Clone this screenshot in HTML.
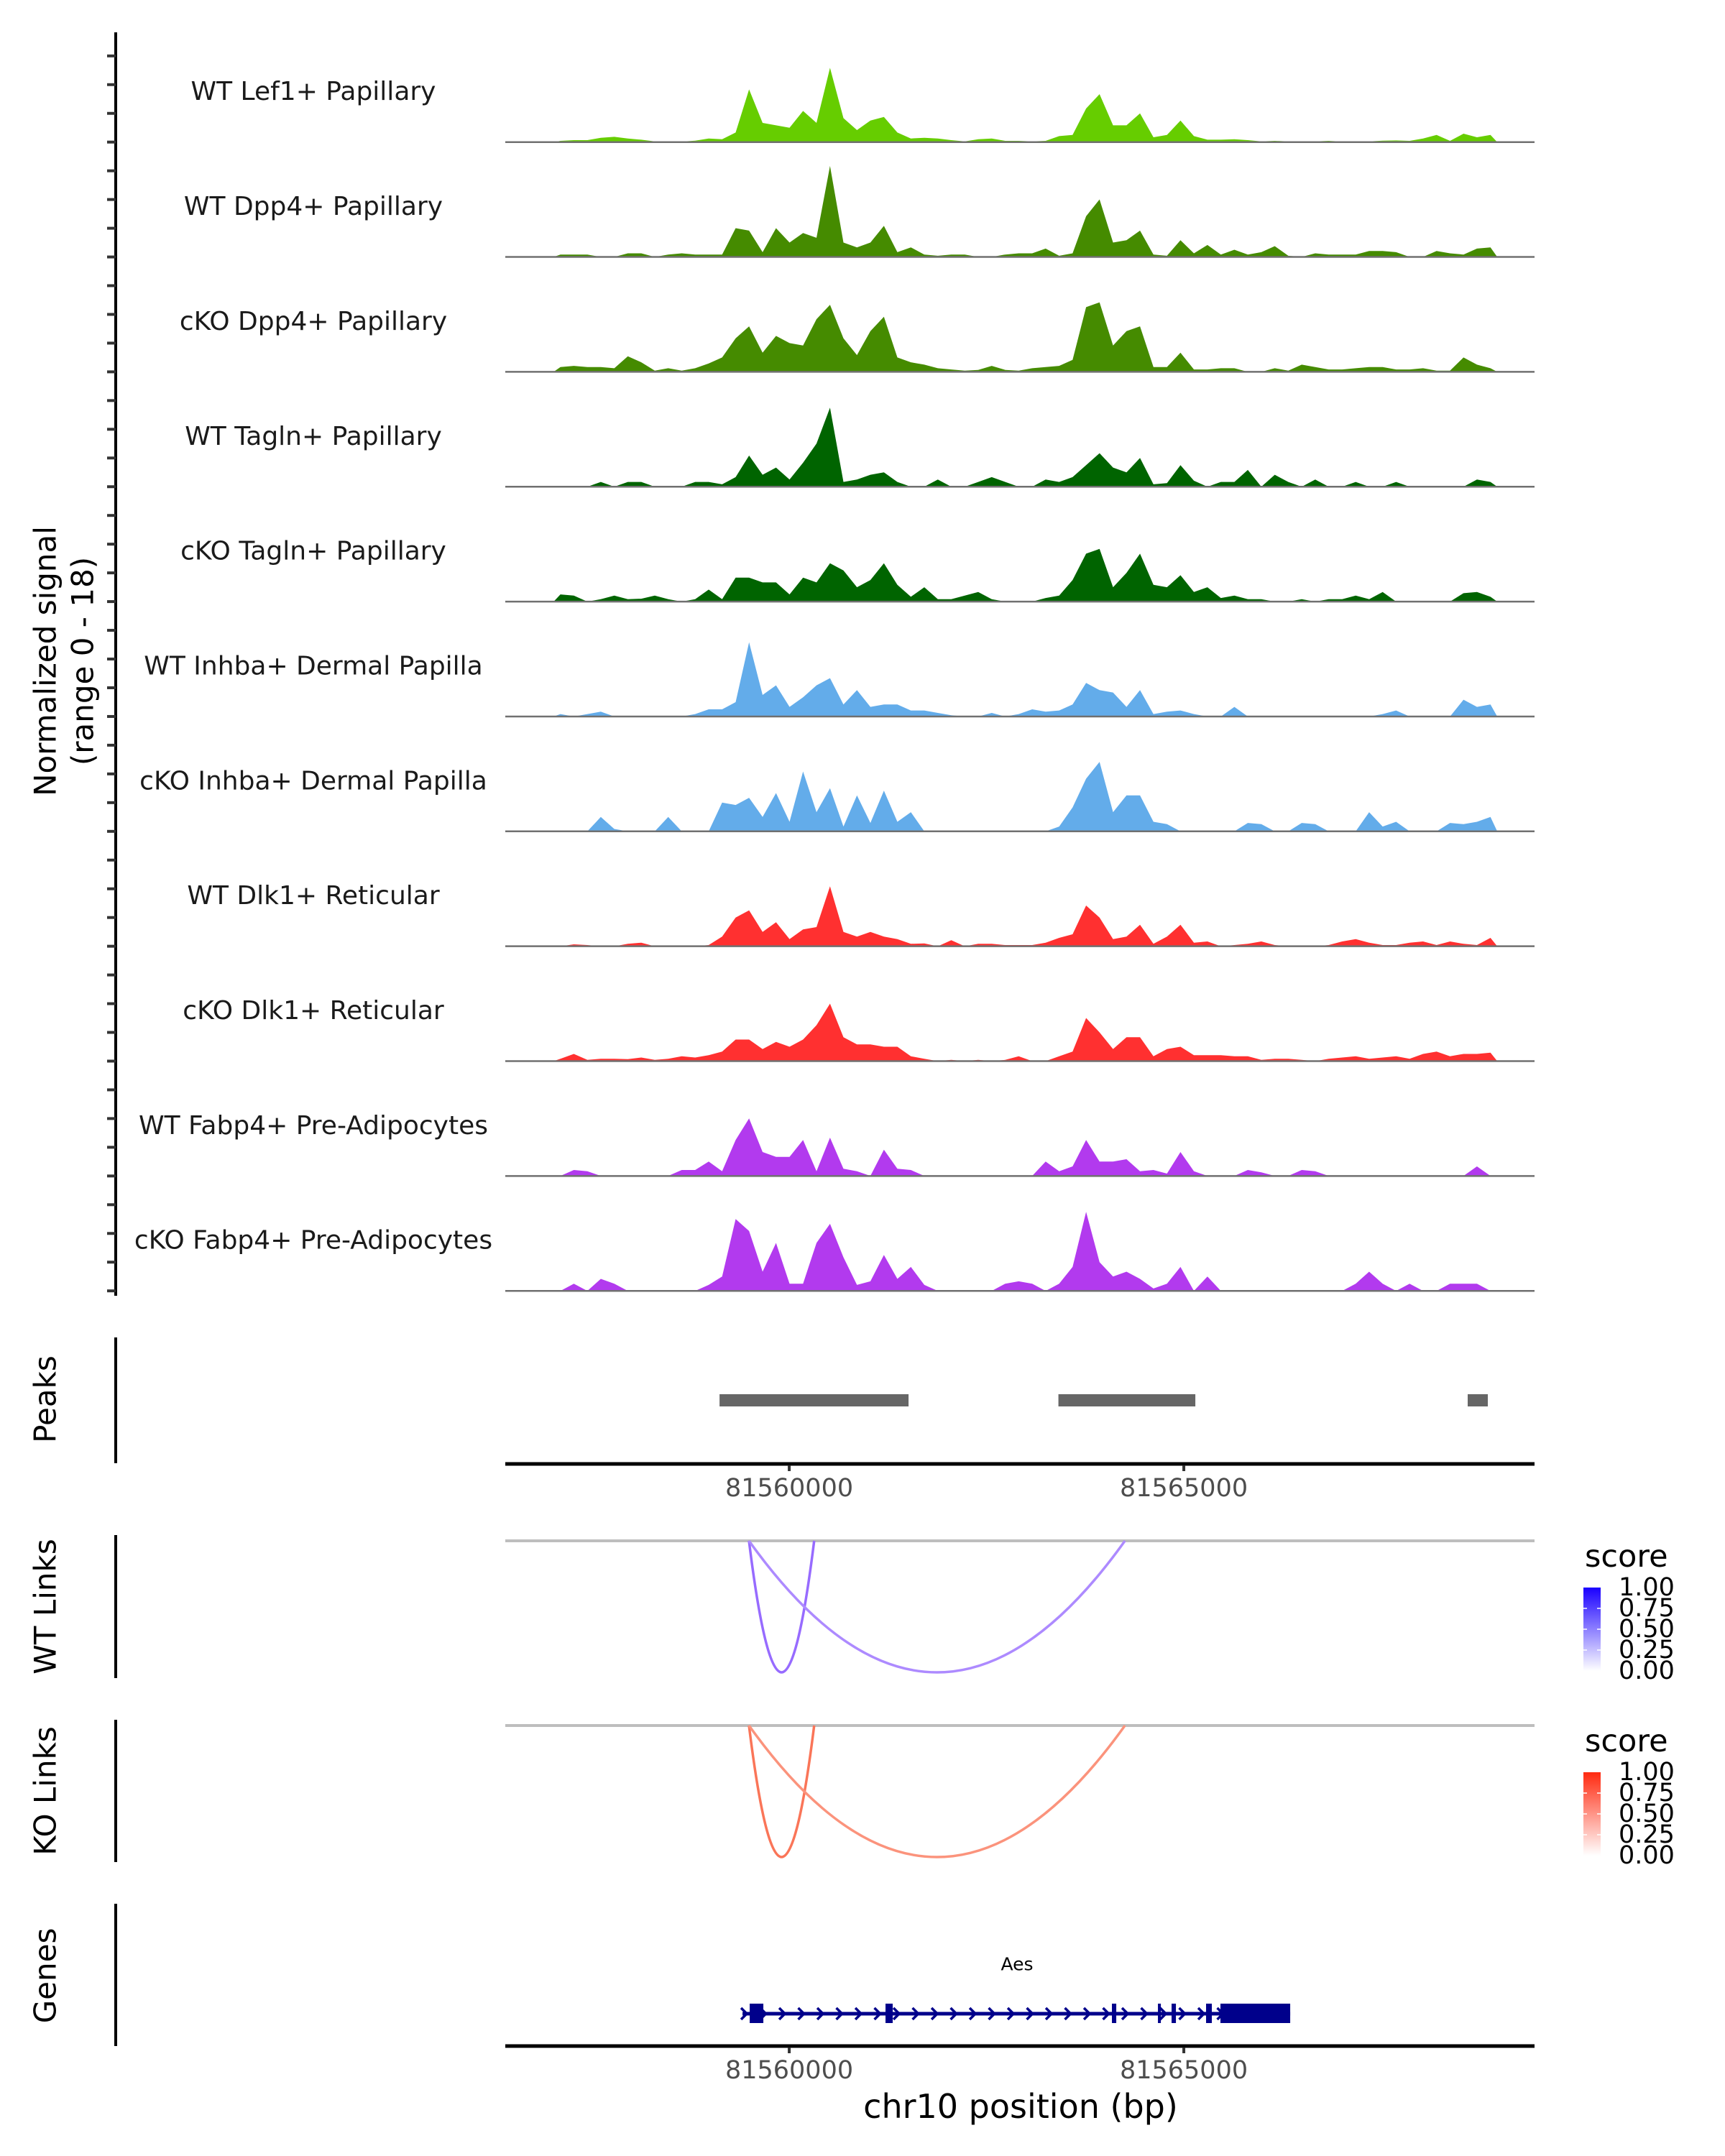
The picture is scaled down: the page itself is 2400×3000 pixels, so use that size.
<!DOCTYPE html>
<html>
<head>
<meta charset="utf-8">
<style>
  html, body { margin: 0; padding: 0; background: #ffffff; }
  svg { display: block; }
  text { font-family: "DejaVu Sans", "Liberation Sans", sans-serif; }
</style>
</head>
<body>
<svg id="chart" xmlns="http://www.w3.org/2000/svg" width="2400" height="3000" viewBox="0 0 2400 3000">
  <rect x="0" y="0" width="2400" height="3000" fill="#ffffff"/>
  <g id="tracks"></g>
  <g id="axisLeft"></g>
  <text transform="translate(63,920) rotate(-90)" text-anchor="middle" dominant-baseline="central" font-size="42" fill="#000">Normalized signal</text>
  <text transform="translate(115,920) rotate(-90)" text-anchor="middle" dominant-baseline="central" font-size="42" fill="#000">(range 0 - 18)</text>
  <g id="peaks"></g>
  <g id="links"></g>
  <g id="genes"></g>
</svg>
<script>
// ---------------- DATA ----------------
const regionStart = 81556402;
const regionEnd = 81569444;
const binStart = 81557015;
const binSize = 170.8;
const xTickValues = [81560000, 81565000];
const xTickLabels = ["81560000", "81565000"];
const trackNames = ["WT Lef1+ Papillary","WT Dpp4+ Papillary","cKO Dpp4+ Papillary","WT Tagln+ Papillary","cKO Tagln+ Papillary","WT Inhba+ Dermal Papilla","cKO Inhba+ Dermal Papilla","WT Dlk1+ Reticular","cKO Dlk1+ Reticular","WT Fabp4+ Pre-Adipocytes","cKO Fabp4+ Pre-Adipocytes"];
const trackColors = ["#66cd00","#458b00","#458b00","#006400","#006400","#63acea","#63acea","#ff3030","#ff3030","#b23aee","#b23aee"];
const sigLef1WT = [5,8,8,18,22,15,10,3,0,2,6,15,12,40,220,80,70,60,130,80,310,100,50,90,105,40,15,18,15,8,3,12,15,5,5,3,5,25,30,140,200,70,70,120,20,30,90,25,10,10,12,8,3,5,3,3,3,5,2,3,3,6,7,5,15,30,5,35,20,30];
const sigDpp4WT = [10,10,10,0,0,15,15,0,10,15,10,10,10,120,110,20,120,60,100,80,380,60,40,60,130,20,40,10,5,10,10,0,0,10,15,15,35,5,15,170,240,60,70,110,10,5,70,15,50,10,30,10,20,45,5,0,15,10,10,10,25,25,20,0,0,25,15,10,35,40];
const sigDpp4KO = [20,25,20,20,15,65,40,5,15,5,15,35,60,140,190,80,150,120,110,220,280,140,70,170,230,60,40,30,15,10,5,8,25,8,5,15,20,25,50,270,290,110,170,190,20,20,80,10,10,15,15,0,0,15,5,30,20,10,10,15,20,20,10,10,15,5,5,60,30,15];
const sigTaglnWT = [0,0,0,20,0,20,20,0,0,0,20,20,10,40,130,50,80,30,100,180,330,20,30,50,60,20,0,0,30,0,0,20,40,20,0,0,30,20,40,90,140,80,60,120,10,15,90,25,0,20,20,70,0,50,20,0,30,0,0,20,0,0,20,0,0,0,0,0,30,20];
const sigTaglnKO = [30,25,0,10,25,10,12,25,10,0,10,50,10,100,100,80,80,30,100,80,160,130,60,90,160,70,20,60,10,10,25,40,10,0,0,0,15,25,90,200,220,60,120,200,70,60,110,40,60,15,25,10,10,0,0,10,0,10,10,25,10,40,0,0,0,0,0,35,40,20];
const sigInhbaWT = [10,0,10,20,0,0,0,0,0,0,10,30,30,60,310,90,130,40,80,130,160,50,110,40,50,50,25,25,15,5,0,0,15,0,10,30,20,25,50,140,110,100,40,110,10,20,25,10,0,0,40,0,0,0,0,0,0,0,0,0,0,10,25,0,0,0,0,70,40,50];
const sigInhbaKO = [0,0,0,60,10,0,0,0,60,0,0,0,120,110,140,60,160,40,250,80,180,20,150,35,170,40,80,0,0,0,0,0,0,0,0,0,0,20,100,220,290,80,150,150,40,30,0,0,0,0,0,35,30,0,0,35,30,0,0,0,80,20,40,0,0,0,35,30,40,60];
const sigDlk1WT = [0,8,5,0,0,10,15,0,0,0,0,5,40,120,150,60,100,30,70,80,250,60,40,60,40,30,10,12,0,25,0,10,10,5,5,5,15,35,50,170,120,30,40,90,10,40,90,15,20,0,5,10,20,5,0,0,0,5,20,30,15,5,5,15,20,5,20,10,5,35];
const sigDlk1KO = [10,30,5,10,10,8,15,5,10,20,15,25,40,90,90,50,80,60,90,150,240,100,70,70,60,60,20,10,0,5,0,5,0,5,20,0,0,20,40,180,120,50,100,100,20,50,60,25,25,25,20,20,5,10,10,5,0,10,15,20,10,15,20,10,30,40,20,30,30,35];
const sigFabp4WT = [0,25,20,0,0,0,0,0,0,25,25,60,20,150,240,100,80,80,150,20,160,30,20,0,110,30,25,0,0,0,0,0,0,0,0,0,60,20,40,150,60,60,70,20,25,10,100,20,0,0,0,25,15,0,0,25,20,0,0,0,0,0,0,0,0,0,0,0,40,0];
const sigFabp4KO = [0,30,0,50,30,0,0,0,0,0,0,25,60,300,250,80,200,30,30,200,280,140,25,40,150,50,100,25,0,0,0,0,0,30,40,30,0,30,100,330,120,60,80,50,10,30,100,0,60,0,0,0,0,0,0,0,0,0,0,30,80,30,0,30,0,0,30,30,30,0];
const trackSignals = [sigLef1WT,sigDpp4WT,sigDpp4KO,sigTaglnWT,sigTaglnKO,sigInhbaWT,sigInhbaKO,sigDlk1WT,sigDlk1KO,sigFabp4WT,sigFabp4KO];
const peakStarts = [81559117, 81563411, 81568597];
const peakEnds = [81561512, 81565146, 81568852];
const linkStarts = [81559490, 81559490];
const linkEnds = [81560316, 81564254];
const wtLinkScores = [0.7, 0.55];
const koLinkScores = [0.7, 0.55];
const geneStart = 81559408;
const geneEnd = 81566348;
const exonStarts = [81559499, 81561220, 81564089, 81564672, 81564845, 81565282, 81565464];
const exonEnds = [81559672, 81561311, 81564144, 81564709, 81564900, 81565355, 81566348];
const legendTicks = ["1.00","0.75","0.50","0.25","0.00"];

// ---------------- SCALES ----------------
const NS = "http://www.w3.org/2000/svg";
const plotLeft = 703, plotRight = 2135;
function xScale(bp) { return plotLeft + (bp - regionStart) * (plotRight - plotLeft) / (regionEnd - regionStart); }
const trackTop0 = 197.7, trackStep = 159.85;
function yScale(v, base) { return base - v / 3; }
function el(tag, attrs, parent) {
  const e = document.createElementNS(NS, tag);
  for (const k in attrs) e.setAttribute(k, attrs[k]);
  parent.appendChild(e);
  return e;
}

// ---------------- TRACKS ----------------
const gT = document.getElementById('tracks');
trackSignals.forEach((sig, t) => {
  const base = trackTop0 + t * trackStep;
  const g = el('g', {}, gT);
  
  
  let d = 'M' + xScale(binStart).toFixed(1) + ',' + base;
  sig.forEach((v, i) => {
    const x = xScale(binStart + (i + 0.5) * binSize);
    d += ' L' + x.toFixed(1) + ',' + yScale(v, base).toFixed(1);
  });
  d += ' L' + xScale(binStart + sig.length * binSize).toFixed(1) + ',' + base + ' Z';
  const area = el('path', { d: d, fill: trackColors[t] }, g);
  
  
  const bl = el('line', { x1: plotLeft, x2: plotRight, y1: base, y2: base, stroke: '#707070', 'stroke-width': 2.5 }, g);
  
  
  const lab = el('text', { x: 436, y: base - 70, 'text-anchor': 'middle', 'dominant-baseline': 'central', 'font-size': 36, fill: '#1a1a1a' }, g);
  lab.textContent = trackNames[t];
  
  
});

// left axis
const gA = document.getElementById('axisLeft');
el('line', { x1: 161, x2: 161, y1: 45, y2: 1803, stroke: '#000', 'stroke-width': 4 }, gA);
for (let t = 0; t < trackSignals.length; t++) {
  const base = trackTop0 + t * trackStep;
  for (let k = 0; k < 4; k++) {
    const y = base - k * trackStep / 4;
    const tk = el('line', { x1: 149, x2: 161, y1: y, y2: y, stroke: '#333', 'stroke-width': 4 }, gA);
    
    
  }
}

// ---------------- side panel titles ----------------
function sideTitle(txt, cy, y1, y2, name, parent) {
  const t = el('text', { transform: 'translate(63,' + cy + ') rotate(-90)', 'text-anchor': 'middle', 'dominant-baseline': 'central', 'font-size': 42, fill: '#000' }, parent);
  t.textContent = txt;
  
  
  const l = el('line', { x1: 161, x2: 161, y1: y1, y2: y2, stroke: '#000', 'stroke-width': 4 }, parent);
  
  
}
function xAxis(y, parent, name) {
  const l = el('line', { x1: plotLeft, x2: plotRight, y1: y, y2: y, stroke: '#000', 'stroke-width': 5 }, parent);
  
  
  xTickValues.forEach((v, i) => {
    const x = xScale(v);
    const tk = el('line', { x1: x, x2: x, y1: y + 2, y2: y + 10, stroke: '#333', 'stroke-width': 4 }, parent);
    
    
    const tl = el('text', { x: x, y: y + 34, 'text-anchor': 'middle', 'dominant-baseline': 'central', 'font-size': 35, fill: '#4d4d4d' }, parent);
    tl.textContent = xTickLabels[i];
    
    
  });
}

// ---------------- PEAKS ----------------
const gP = document.getElementById('peaks');
sideTitle('Peaks', 1947, 1861, 2036, 'peaks', gP);
peakStarts.forEach((s, i) => {
  const r = el('rect', { x: xScale(s), y: 1940, width: xScale(peakEnds[i]) - xScale(s), height: 17, fill: '#666666' }, gP);
  
  
});
xAxis(2037, gP, 'peaks-x-axis');

// ---------------- LINKS ----------------
const gL = document.getElementById('links');
function hex(c) { return [1, 3, 5].map(i => parseInt(c.substr(i, 2), 16)); }
function mix(a, b, t) {
  const A = hex(a), B = hex(b);
  return 'rgb(' + A.map((v, i) => Math.round(v + (B[i] - v) * t)).join(',') + ')';
}
function linkPanel(title, base, axisTop, axisBot, scores, colLo, colHi, arcHi, legendY, name) {
  const g = el('g', {}, gL);
  
  
  sideTitle(title, (axisTop + axisBot) / 2, axisTop, axisBot, name, g);
  el('line', { x1: plotLeft, x2: plotRight, y1: base, y2: base, stroke: '#bebebe', 'stroke-width': 4 }, g);
  const depth = 183;
  linkStarts.forEach((s, i) => {
    const x1 = xScale(s), x2 = xScale(linkEnds[i]);
    const cy = base + depth * 2;
    const c = mix(colLo, arcHi, scores[i]);
    const p = el('path', { d: 'M' + x1 + ',' + base + ' Q' + ((x1 + x2) / 2) + ',' + cy + ' ' + x2 + ',' + base, fill: 'none', stroke: c, 'stroke-width': 3.5 }, g);
    
    
  });
  const lg = el('g', {}, g);
  
  
  const st = el('text', { x: 2205, y: legendY, 'font-size': 43, fill: '#000' }, lg);
  st.textContent = 'score';
  
  
  const gid = name + '-grad';
  const defs = el('defs', {}, lg);
  const grad = el('linearGradient', { id: gid, x1: 0, y1: 1, x2: 0, y2: 0 }, defs);
  el('stop', { offset: '0', 'stop-color': colLo }, grad);
  el('stop', { offset: '1', 'stop-color': colHi }, grad);
  const top = legendY + 29, bot = legendY + 145;
  const bar = el('rect', { x: 2203, y: top, width: 24, height: bot - top, fill: 'url(#' + gid + ')' }, lg);
  
  
  legendTicks.forEach((t, i) => {
    const y = top + i * (bot - top) / 4;
    if (i > 0 && i < 4) {
      el('line', { x1: 2203, x2: 2208, y1: y, y2: y, stroke: '#fff', 'stroke-width': 1.5 }, lg);
      el('line', { x1: 2222, x2: 2227, y1: y, y2: y, stroke: '#fff', 'stroke-width': 1.5 }, lg);
    }
    const tl = el('text', { x: 2252, y: y, 'dominant-baseline': 'central', 'font-size': 35, fill: '#000' }, lg);
    tl.textContent = t;
    
    
  });
}
linkPanel('WT Links', 2144, 2136, 2335, wtLinkScores, '#ffffff', '#1a00ff', '#6a2bff', 2180, 'wt-links');
linkPanel('KO Links', 2401, 2393, 2591, koLinkScores, '#ffffff', '#ff2a10', '#f83a10', 2437, 'ko-links');

// ---------------- GENES ----------------
const gG = document.getElementById('genes');
sideTitle('Genes', 2749, 2649, 2847, 'genes', gG);
const gy = 2802;
const gl = el('line', { x1: xScale(geneStart), x2: xScale(geneEnd), y1: gy, y2: gy, stroke: '#00008b', 'stroke-width': 5 }, gG);


for (let x = xScale(geneStart) + 2; x < xScale(exonStarts[exonStarts.length - 1]); x += 26.5) {
  const ch = el('path', { d: 'M' + (x - 4) + ',' + (gy - 8) + ' L' + (x + 4) + ',' + gy + ' L' + (x - 4) + ',' + (gy + 8), fill: 'none', stroke: '#00008b', 'stroke-width': 3.5 }, gG);
  
  
}
exonStarts.forEach((s, i) => {
  const r = el('rect', { x: xScale(s), y: 2788, width: Math.max(3, xScale(exonEnds[i]) - xScale(s)), height: 27, fill: '#00008b' }, gG);
  
  
});
const gn = el('text', { x: (xScale(geneStart) + xScale(geneEnd)) / 2 + 1, y: 2733, 'text-anchor': 'middle', 'dominant-baseline': 'central', 'font-size': 25, fill: '#000' }, gG);
gn.textContent = 'Aes';


xAxis(2847, gG, 'genes-x-axis');
const xt = el('text', { x: 1420, y: 2931, 'text-anchor': 'middle', 'dominant-baseline': 'central', 'font-size': 46, fill: '#000' }, gG);
xt.textContent = 'chr10 position (bp)';


</script>
</body>
</html>
